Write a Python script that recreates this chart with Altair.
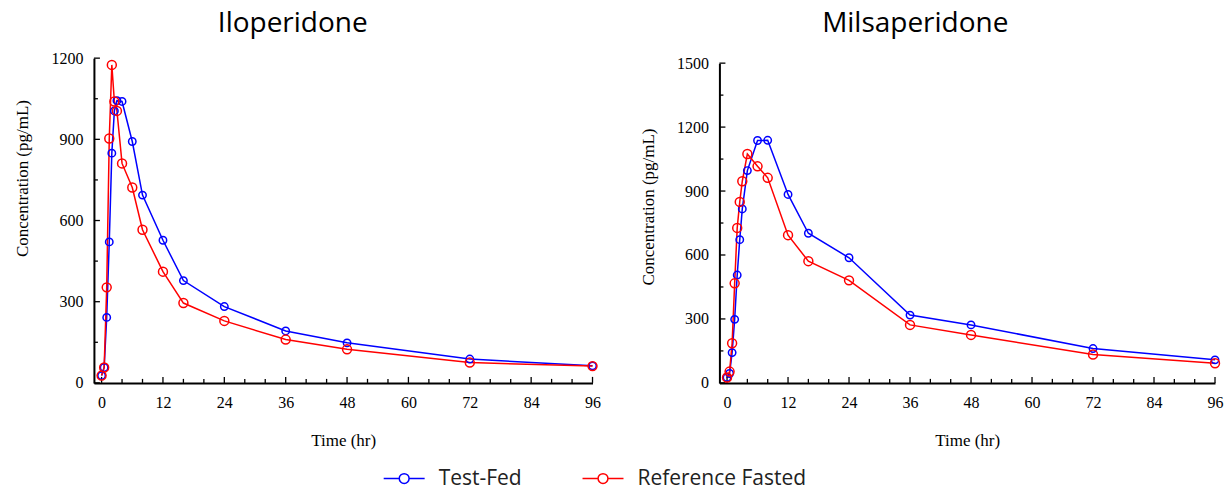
import altair as alt
import pandas as pd

# ---------------- data ----------------
times = [0, 0.5, 1, 1.5, 2, 2.5, 3, 4, 6, 8, 12, 16, 24, 36, 48, 72, 96]
ilo_test_fed = [27, 57, 242, 521, 849, 1005, 1043, 1040, 892, 694, 527, 378, 282, 192, 148, 88, 63]
ilo_ref_fasted = [27, 57, 353, 903, 1175, 1040, 1005, 811, 722, 566, 411, 295, 229, 160, 124, 75, 62]
mil_test_fed = [25, 44, 142, 298, 506, 672, 816, 996, 1137, 1138, 884, 702, 587, 318, 272, 161, 108]
mil_ref_fasted = [25, 53, 186, 467, 727, 849, 946, 1074, 1016, 962, 693, 571, 481, 272, 225, 133, 92]

groups = ["Test-Fed", "Reference Fasted"]
colors = ["#0000ff", "#ff0000"]

x_major = [0, 12, 24, 36, 48, 60, 72, 84, 96]
x_minor = [4, 8, 16, 20, 28, 32, 40, 44, 52, 56, 64, 68, 76, 80, 88, 92]
ilo_y_major = [0, 300, 600, 900, 1200]
ilo_y_minor = [150, 450, 750, 1050]
mil_y_major = [0, 300, 600, 900, 1200, 1500]
mil_y_minor = [150, 450, 750, 1050, 1350]

SERIF = "Liberation Serif"
SANS = "Open Sans"

legend_path = ("M-1,0H-0.24M0.24,0H1"
               "M-0.24,0A0.24,0.24 0 1,0 0.24,0A0.24,0.24 0 1,0 -0.24,0")

color_scale = alt.Scale(domain=groups, range=colors)

H = 325


def panel(title, blue, red, ymax, ymaj, ymin, W, top_gap, title_dx, title_off, ytitle_y):
    df = pd.DataFrame({
        "time": times + times,
        "conc": blue + red,
        "group": [groups[0]] * len(times) + [groups[1]] * len(times),
        "ord": list(range(len(times))) * 2,
    })
    xs = alt.Scale(domain=[-1.5, 96], nice=False, zero=False)
    ys = alt.Scale(domain=[0, ymax], nice=False, range=[H, top_gap])
    xa = alt.Axis(
        values=x_major, format="d", title="Time (hr)", labelFlush=False,
        labelPadding=12, titleX=W / 2, titleY=57.5, titleBaseline="middle",
        titleAlign="center")
    ya = alt.Axis(
        values=ymaj, format="d", title="Concentration (pg/mL)", labelPadding=11,
        titleX=-71, titleY=ytitle_y, titleAngle=270, titleBaseline="middle",
        titleAlign="center")

    color_enc = alt.Color("group:N", scale=color_scale, sort=groups,
                          legend=alt.Legend(
                              title=None, orient="none", direction="horizontal",
                              legendX=289, legendY=399,
                              symbolType=legend_path, symbolSize=1681,
                              symbolStrokeWidth=1.5, symbolFillColor="transparent",
                              labelFont=SANS, labelFontSize=21, labelColor="#222222",
                              labelLimit=400, labelOffset=13, columnPadding=57,
                              padding=0))

    line = alt.Chart(df).mark_line(strokeWidth=1.5).encode(
        x=alt.X("time:Q", scale=xs, axis=xa), y=alt.Y("conc:Q", scale=ys, axis=ya),
        color=color_enc, order="ord:Q")
    pts_b = alt.Chart(df).transform_filter(alt.datum.group == groups[0]).mark_point(
        filled=False, size=55, strokeWidth=1.5, opacity=1).encode(
        x=alt.X("time:Q", scale=xs, axis=xa), y=alt.Y("conc:Q", scale=ys, axis=ya),
        color=color_enc)
    pts_r = alt.Chart(df).transform_filter(alt.datum.group == groups[1]).mark_point(
        filled=False, size=80, strokeWidth=1.5, opacity=1).encode(
        x=alt.X("time:Q", scale=xs, axis=xa), y=alt.Y("conc:Q", scale=ys, axis=ya),
        color=color_enc)

    xmaj = alt.Chart(pd.DataFrame({"time": x_major})).mark_rule(
        color="black", strokeWidth=1.3).encode(
        x=alt.X("time:Q", scale=xs, axis=xa), y=alt.value(H), y2=alt.value(H - 6))
    xmin = alt.Chart(pd.DataFrame({"time": x_minor})).mark_rule(
        color="black", strokeWidth=1.3).encode(
        x=alt.X("time:Q", scale=xs, axis=xa), y=alt.value(H), y2=alt.value(H - 4))
    ymj = alt.Chart(pd.DataFrame({"conc": ymaj})).mark_rule(
        color="black", strokeWidth=1.3).encode(
        y=alt.Y("conc:Q", scale=ys, axis=ya), x=alt.value(0), x2=alt.value(6))
    ymn = alt.Chart(pd.DataFrame({"conc": ymin})).mark_rule(
        color="black", strokeWidth=1.3).encode(
        y=alt.Y("conc:Q", scale=ys, axis=ya), x=alt.value(0), x2=alt.value(4))

    return alt.layer(line, xmaj, xmin, ymj, ymn, pts_b, pts_r).properties(
        width=W, height=H,
        title=alt.TitleParams(title, font=SANS, fontSize=28, fontWeight="normal",
                              color="black", anchor="middle", frame="group",
                              dx=title_dx, offset=title_off, baseline="alphabetic"))


left = panel("Iloperidone", ilo_test_fed, ilo_ref_fasted, 1200, ilo_y_major, ilo_y_minor,
             499, 0, -50.5, -9.5, 120)
right = panel("Milsaperidone", mil_test_fed, mil_ref_fasted, 1500, mil_y_major, mil_y_minor,
              496, 5, -52, -4.5, 148.5)

chart = alt.hconcat(left, right, spacing=39).properties(
    padding={"left": 14, "top": 9, "right": 5, "bottom": 0},
    background="white",
).configure_view(stroke=None).configure_axis(
    domainColor="black", domainWidth=2, ticks=False, grid=False,
    labelFont=SERIF, labelFontSize=16, labelColor="black",
    titleFont=SERIF, titleFontSize=17, titleFontWeight="normal", titleColor="black",
)

chart.save("out.html", embed_options={"renderer": "svg", "actions": False})
